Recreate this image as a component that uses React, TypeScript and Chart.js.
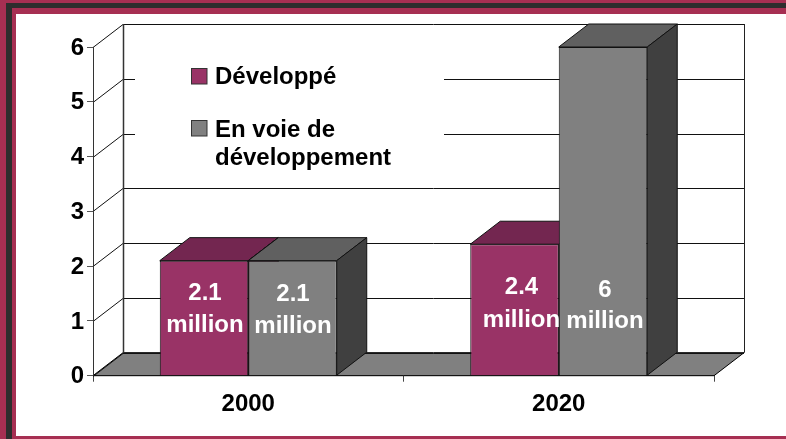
import React, { useEffect, useRef } from "react";
import { Chart, registerables } from "chart.js";

Chart.register(...registerables);

const categories = ["2000", "2020"];
const developpe = [2.1, 2.4];
const enVoie = [2.1, 6];
const labelsDeveloppe = [["2.1", "million"], ["2.4", "million"]];
const labelsEnVoie = [["2.1", "million"], ["6", "million"]];
const legendDeveloppe = ["Développé"];
const legendEnVoie = ["En voie de", "développement"];

const FONT = "'Liberation Sans', Arial, sans-serif";
const FRAME = "#A62F52";
const DARK = "#2D2D2D";
const MAROON = "#993366";
const GRAY = "#808080";
const DX = 30;
const DY = -23;

const drawFaces = (chart: any, index: number) => {
  const c = chart.ctx;
  const meta = chart.getDatasetMeta(index);
  const ds = chart.data.datasets[index];
  c.save();
  c.strokeStyle = "#111";
  c.lineWidth = 1;
  c.lineJoin = "round";
  meta.data.forEach((bar: any) => {
    const l = bar.x - bar.width / 2;
    const r = bar.x + bar.width / 2;
    const t = bar.y;
    const b = bar.base;
    c.fillStyle = ds.topColor;
    c.beginPath();
    c.moveTo(l, t);
    c.lineTo(l + DX, t + DY);
    c.lineTo(r + DX, t + DY);
    c.lineTo(r, t);
    c.closePath();
    c.fill();
    c.stroke();
    c.fillStyle = ds.sideColor;
    c.beginPath();
    c.moveTo(r, t);
    c.lineTo(r + DX, t + DY);
    c.lineTo(r + DX, b + DY);
    c.lineTo(r, b);
    c.closePath();
    c.fill();
    c.stroke();
  });
  c.restore();
};

const frameAndWalls = {
  id: "frameAndWalls",
  beforeDraw(chart: any) {
    const c = chart.ctx;
    c.save();
    c.fillStyle = "#fff";
    c.fillRect(0, 0, 786, 439);
    c.fillStyle = FRAME;
    c.fillRect(0, 0, 786, 14);
    c.fillRect(0, 0, 16, 439);
    c.fillRect(0, 436, 786, 3);
    c.fillStyle = DARK;
    c.fillRect(6, 3, 780, 5);
    c.fillRect(6, 3, 6, 436);
    c.restore();
  },
  beforeDatasetsDraw(chart: any) {
    const c = chart.ctx;
    const { left, right } = chart.chartArea;
    const y = chart.scales.y;
    const y0 = y.getPixelForValue(0);
    const y6 = y.getPixelForValue(6);
    c.save();
    // floor
    c.fillStyle = GRAY;
    c.beginPath();
    c.moveTo(left, y0);
    c.lineTo(right, y0);
    c.lineTo(right + DX, y0 + DY);
    c.lineTo(left + DX, y0 + DY);
    c.closePath();
    c.fill();
    c.strokeStyle = "#000";
    c.lineWidth = 1;
    c.stroke();
    // grid lines on side and back walls
    for (let v = 0; v <= 6; v++) {
      const p = Math.round(y.getPixelForValue(v)) + 0.5;
      c.beginPath();
      c.moveTo(left, p);
      c.lineTo(left + DX, p + DY);
      c.lineTo(right + DX, p + DY);
      c.strokeStyle = "#111";
      c.lineWidth = 1;
      c.stroke();
    }
    // walls
    c.beginPath();
    c.moveTo(left + 0.5, y0);
    c.lineTo(left + 0.5, y6);
    c.strokeStyle = "#333";
    c.stroke();
    c.beginPath();
    c.moveTo(left + DX + 0.5, y0 + DY);
    c.lineTo(left + DX + 0.5, y6 + DY);
    c.strokeStyle = "#333";
    c.lineWidth = 1.5;
    c.stroke();
    c.beginPath();
    c.moveTo(right + DX + 0.5, y0 + DY);
    c.lineTo(right + DX + 0.5, y6 + DY);
    c.strokeStyle = "#222";
    c.lineWidth = 1;
    c.stroke();
    // legend background hides grid lines
    c.fillStyle = "#fff";
    c.fillRect(135, 52, 309, 128);
    // legend
    c.font = `bold 24px ${FONT}`;
    c.textAlign = "left";
    c.textBaseline = "alphabetic";
    const swatch = (yy: number, col: string) => {
      c.fillStyle = col;
      c.fillRect(191.5, yy + 0.5, 15.5, 15.5);
      c.strokeStyle = "#333";
      c.lineWidth = 1;
      c.strokeRect(191.5, yy + 0.5, 15.5, 15.5);
    };
    swatch(68, MAROON);
    swatch(120, GRAY);
    c.fillStyle = "#000";
    c.fillText(legendDeveloppe[0], 215, 83.5);
    c.fillText(legendEnVoie[0], 215, 137);
    c.fillText(legendEnVoie[1], 215, 165);
    c.restore();
  },
  beforeDatasetDraw(chart: any, args: any) {
    // The library paints the last dataset first: lay down all the 3D faces
    // just before it, so each front face covers what sits behind it.
    if (args.index === 1) {
      drawFaces(chart, 0);
      drawFaces(chart, 1);
    }
  },
  afterDatasetsDraw(chart: any) {
    const c = chart.ctx;
    c.save();
    c.font = `bold 24px ${FONT}`;
    c.fillStyle = "#fff";
    c.textAlign = "center";
    c.textBaseline = "alphabetic";
    const y0 = chart.scales.y.getPixelForValue(0);
    const draw = (idx: number, lines: string[][], rises: number[][], nudges: number[]) => {
      chart.getDatasetMeta(idx).data.forEach((bar: any, i: number) => {
        lines[i].forEach((t, k) => c.fillText(t, bar.x + nudges[i], y0 - rises[i][k]));
      });
    };
    draw(0, labelsDeveloppe, [[75.5, 44], [81.5, 49]], [1, 7]);
    draw(1, labelsEnVoie, [[74.5, 43], [79, 47.5]], [0.5, 2]);
    c.restore();
  },
};

export default function App() {
  const ref = useRef<HTMLCanvasElement>(null);
  useEffect(() => {
    document.body.style.margin = "0";
    const chart = new Chart(ref.current as HTMLCanvasElement, {
      type: "bar",
      data: {
        labels: categories,
        datasets: [
          { label: "Développé", data: developpe, backgroundColor: MAROON, borderColor: "#111", borderWidth: 1, topColor: "#732650", sideColor: "#4D1A33" } as any,
          { label: "En voie de développement", data: enVoie, backgroundColor: GRAY, borderColor: "#111", borderWidth: 1, topColor: "#606060", sideColor: "#404040" } as any,
        ],
      },
      options: {
        responsive: false,
        animation: false,
        devicePixelRatio: 1,
        layout: { padding: { top: 47, right: 72, left: 0, bottom: 0 } },
        plugins: { legend: { display: false }, tooltip: { enabled: false } },
        datasets: { bar: { categoryPercentage: 0.57, barPercentage: 1 } },
        scales: {
          x: {
            border: { display: true, color: "#111" },
            grid: { drawOnChartArea: false, tickLength: 6, color: "#444" },
            ticks: { color: "#000", font: { family: FONT, weight: "bold", size: 24 }, padding: 8, maxRotation: 0 },
            afterFit: (s: any) => { s.height = 63.3; },
          },
          y: {
            min: 0,
            max: 6,
            border: { display: false },
            grid: { drawOnChartArea: false, tickLength: 6, color: "#555" },
            ticks: { stepSize: 1, color: "#000", font: { family: FONT, weight: "bold", size: 24 }, padding: 3, labelOffset: 1 },
            afterFit: (s: any) => { s.width = 93; },
          },
        },
      } as any,
      plugins: [frameAndWalls as any],
    });
    return () => chart.destroy();
  }, []);
  return <canvas ref={ref} width={786} height={439} style={{ display: "block" }} />;
}
